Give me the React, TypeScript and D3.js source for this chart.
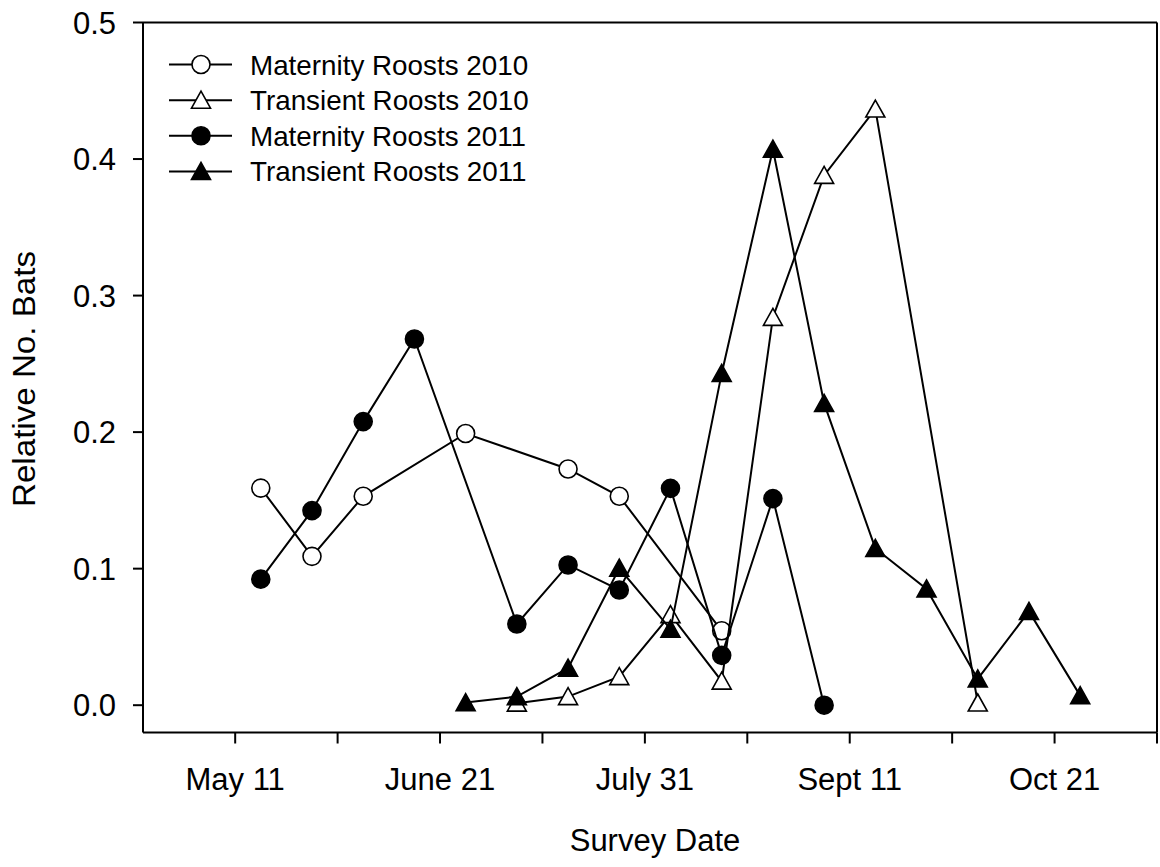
import React from "react";
import * as d3 from "d3";

// Survey day offsets (days after May 11) and relative number of bats
const maternity2010Days = [5, 15, 25, 45, 65, 75, 95];
const maternity2010Values = [0.159, 0.109, 0.153, 0.199, 0.173, 0.153, 0.0545];

const transient2010Days = [55, 65, 75, 85, 95, 105, 115, 125, 145];
const transient2010Values = [0.0015, 0.0063, 0.0209, 0.0663, 0.0176, 0.284, 0.388, 0.4366, 0.0016];

const maternity2011Days = [5, 15, 25, 35, 55, 65, 75, 85, 95, 105, 115];
const maternity2011Values = [0.0923, 0.1425, 0.2077, 0.2682, 0.0595, 0.1027, 0.0844, 0.1588, 0.0365, 0.1513, 0.0];

const transient2011Days = [45, 55, 65, 75, 85, 95, 105, 115, 125, 135, 145, 155, 165];
const transient2011Values = [0.0019, 0.0063, 0.0271, 0.1003, 0.0557, 0.243, 0.4072, 0.221, 0.1148, 0.0851, 0.0192, 0.0687, 0.007];

const seriesNames = ["Maternity Roosts 2010", "Transient Roosts 2010", "Maternity Roosts 2011", "Transient Roosts 2011"];
const seriesShapes = ["circle", "triangle", "circle", "triangle"];
const seriesFilled = [false, false, true, true];

const xMajorTickDays = [0, 40, 80, 120, 160];
const xMajorTickLabels = ["May 11", "June 21", "July 31", "Sept 11", "Oct 21"];
const xMinorTickDays = [20, 60, 100, 140, 180];
const yTickValues = [0, 0.1, 0.2, 0.3, 0.4, 0.5];

const FONT = "'Liberation Sans', Arial, Helvetica, sans-serif";

function Marker({ shape, filled, x, y }: { shape: string; filled: boolean; x: number; y: number }) {
  const fill = filled ? "#000" : "#fff";
  if (shape === "circle") {
    return <circle cx={x} cy={y} r={9} fill={fill} stroke="#000" strokeWidth={1.6} />;
  }
  const hw = 9.5;
  const h = 16;
  const pts = `${x},${y - h / 2 - 1} ${x + hw},${y + h / 2} ${x - hw},${y + h / 2}`;
  return <polygon points={pts} fill={fill} stroke="#000" strokeWidth={1.6} strokeLinejoin="miter" />;
}

export default function App() {
  const left = 143, right = 1157, top = 22.5, bottom = 732.5;
  const x = d3.scaleLinear().domain([-18, 180]).range([left, right]);
  const y = d3.scaleLinear().domain([-0.02, 0.5]).range([bottom, top]);

  const series = [
    { days: maternity2010Days, values: maternity2010Values },
    { days: transient2010Days, values: transient2010Values },
    { days: maternity2011Days, values: maternity2011Values },
    { days: transient2011Days, values: transient2011Values },
  ];

  const line = d3
    .line<[number, number]>()
    .x((d) => x(d[0]))
    .y((d) => y(d[1]));

  const legendRowY = [64.5, 100.2, 135.8, 171.4];

  return (
    <svg
      width={1160}
      height={867}
      style={{ position: "absolute", left: 0, top: 0, background: "#fff" }}
      fontFamily={FONT}
    >
      <rect x={0} y={0} width={1160} height={867} fill="#fff" />
      {/* frame */}
      <line x1={left} x2={right} y1={top} y2={top} stroke="#000" strokeWidth={2} />
      <line x1={right} x2={right} y1={top} y2={bottom} stroke="#000" strokeWidth={2} />
      <line x1={left} x2={left} y1={top} y2={bottom} stroke="#000" strokeWidth={2} />
      <line x1={left} x2={right} y1={bottom} y2={bottom} stroke="#000" strokeWidth={2} />

      {/* y ticks */}
      {yTickValues.map((v) => (
        <g key={v}>
          <line x1={left - 10} x2={left} y1={y(v)} y2={y(v)} stroke="#000" strokeWidth={2} />
          <text x={116} y={y(v)} dy="0.36em" textAnchor="end" fontSize={31} fill="#000">
            {d3.format(".1f")(v)}
          </text>
        </g>
      ))}

      {/* x ticks */}
      {xMajorTickDays.map((d, i) => (
        <g key={d}>
          <line x1={x(d)} x2={x(d)} y1={bottom} y2={bottom + 11} stroke="#000" strokeWidth={2} />
          <text x={x(d)} y={790} textAnchor="middle" fontSize={31} fill="#000">
            {xMajorTickLabels[i]}
          </text>
        </g>
      ))}
      {xMinorTickDays.map((d) => (
        <line key={d} x1={x(d)} x2={x(d)} y1={bottom} y2={bottom + 11} stroke="#000" strokeWidth={2} />
      ))}

      {/* axis titles */}
      <text x={655} y={851} textAnchor="middle" fontSize={31} fill="#000">
        Survey Date
      </text>
      <text
        transform={`translate(35, 379) rotate(-90)`}
        textAnchor="middle"
        fontSize={31}
        fill="#000"
        textLength={256}
        lengthAdjust="spacingAndGlyphs"
      >
        Relative No. Bats
      </text>

      {/* series */}
      {series.map((s, si) => {
        const pts: [number, number][] = s.days.map((d, i) => [d, s.values[i]]);
        return (
          <g key={si}>
            <path d={line(pts) || ""} fill="none" stroke="#000" strokeWidth={2} />
            {pts.map((p, i) => (
              <Marker key={i} shape={seriesShapes[si]} filled={seriesFilled[si]} x={x(p[0])} y={y(p[1])} />
            ))}
          </g>
        );
      })}

      {/* legend */}
      {seriesNames.map((name, i) => (
        <g key={name}>
          <line x1={169} x2={232} y1={legendRowY[i]} y2={legendRowY[i]} stroke="#000" strokeWidth={2} />
          <Marker shape={seriesShapes[i]} filled={seriesFilled[i]} x={201} y={legendRowY[i]} />
          <text x={250} y={legendRowY[i]} dy="0.36em" fontSize={27.8} fill="#000">
            {name}
          </text>
        </g>
      ))}
    </svg>
  );
}
